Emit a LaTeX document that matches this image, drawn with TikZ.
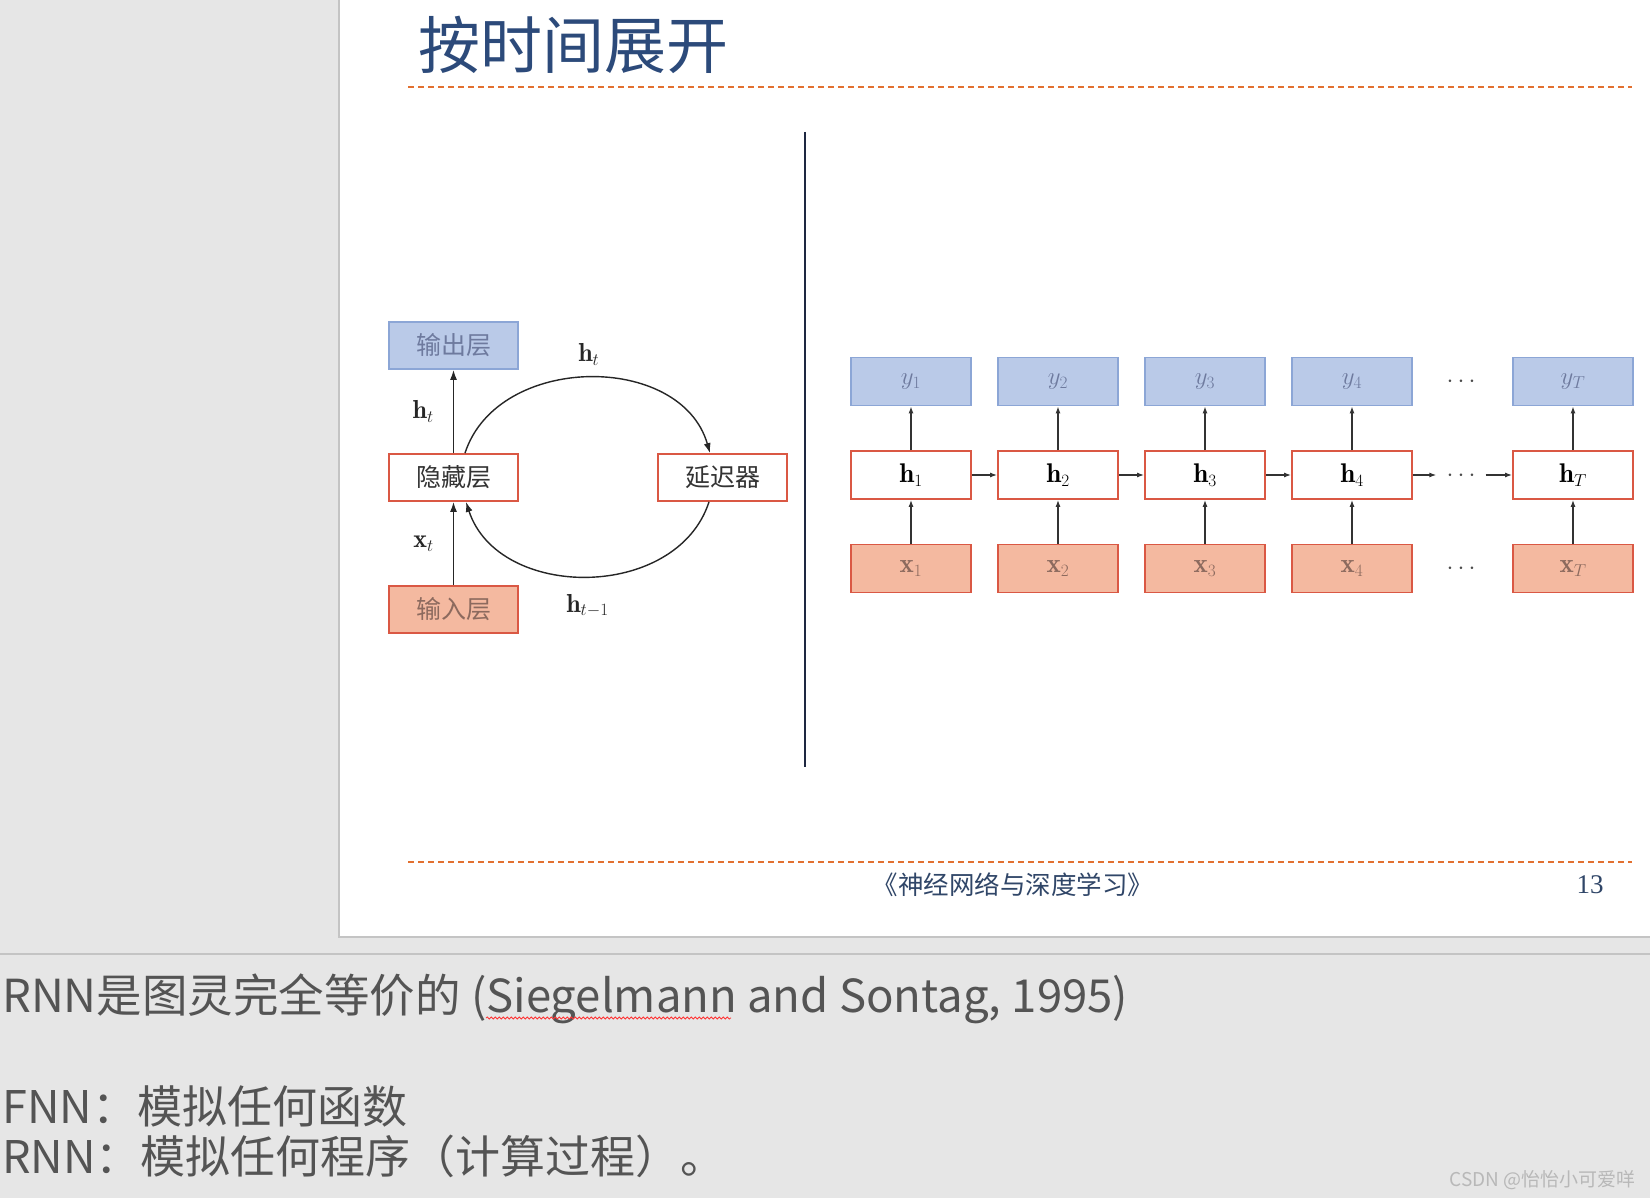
\documentclass[tikz,border=0pt]{standalone}
\usepackage{fontspec}
\usetikzlibrary{arrows.meta,decorations.pathmorphing}
\newfontfamily\cjk{Noto Sans CJK SC}
\newfontfamily\pgnum{Liberation Serif}
\definecolor{pagegray}{RGB}{230,230,230}
\definecolor{rimgray}{RGB}{196,196,196}
\definecolor{titleblue}{RGB}{44,74,122}
\definecolor{footblue}{RGB}{48,70,104}
\definecolor{dashorange}{RGB}{226,112,48}
\definecolor{outfill}{RGB}{186,202,232}
\definecolor{outdraw}{RGB}{140,166,214}
\definecolor{hiddraw}{RGB}{218,88,68}
\definecolor{infill}{RGB}{244,185,160}
\definecolor{outtext}{RGB}{110,122,158}
\definecolor{intext}{RGB}{140,106,94}
\definecolor{notegray}{RGB}{84,84,84}
\definecolor{rulenavy}{RGB}{30,40,65}
\begin{document}
\begin{tikzpicture}[x=1pt,y=1pt,every node/.style={inner sep=0pt},
  lyr/.style={line width=1.8pt,minimum width=129pt,minimum height=47pt,font=\cjk\fontsize{25}{28}\selectfont},
  outlayer/.style={lyr,draw=outdraw,fill=outfill,text=outtext},
  hidlayer/.style={lyr,draw=hiddraw,fill=white,text=black!80},
  inlayer/.style={lyr,draw=hiddraw,fill=infill,text=intext},
  ucell/.style={line width=1.8pt,minimum width=120pt,minimum height=48pt,font=\fontsize{27}{30}\selectfont},
  ycell/.style={ucell,draw=outdraw,fill=outfill,text=outtext},
  hcell/.style={ucell,draw=hiddraw,fill=white,text=black},
  xcell/.style={ucell,draw=hiddraw,fill=infill,text=intext},
  ellip/.style={font=\fontsize{25}{28}\selectfont,text=black!70,inner xsep=10pt,text height=12.5pt,text depth=0pt},
  arr/.style={-{Latex[length=10pt,width=7pt]},line width=1.4pt,black!85},
  arrs/.style={-{Latex[length=7pt,width=5pt]},line width=1.2pt,black!80},
  lbl/.style={font=\fontsize{26}{28}\selectfont,text=black!85},
  dashrule/.style={dashorange,line width=1.3pt,dash pattern=on 6pt off 4pt}]
  \useasboundingbox (0,0) rectangle (1650,-1198);
  % slide and notes pane
  \fill[pagegray] (0,0) rectangle (1650,-1198);
  \fill[white] (339,0) rectangle (1650,-937);
  \draw[rimgray,line width=1.2pt] (339,0) -- (339,-937) -- (1650,-937);
  \draw[rimgray,line width=1.5pt] (0,-954) -- (1650,-954);
  \draw[dashrule] (408,-87) -- (1632,-87);
  \draw[dashrule] (408,-862) -- (1632,-862);
  \node[font=\cjk\fontsize{62}{70}\selectfont,text=titleblue,anchor=west] (title) at (418,-45) {按时间展开};
  \node[font=\cjk\fontsize{25.5}{28}\selectfont,text=footblue] (book) at (1013,-885) {《神经网络与深度学习》};
  \node[font=\pgnum\fontsize{27}{30}\selectfont,text=footblue] (pageno) at (1590,-885) {13};
  \draw[rulenavy,line width=1.3pt] (805,-132) -- (805,-767);
  % recurrent view
  \node[outlayer] (outl) at (453.5,-345.5) {输出层};
  \node[hidlayer] (hidl) at (453.5,-477.5) {隐藏层};
  \node[hidlayer] (delay) at (722.5,-477.5) {延迟器};
  \node[inlayer] (inl) at (453.5,-609.5) {输入层};
  \draw[arr] (hidl) -- (outl) node[midway,left=19pt,lbl] {$\mathbf{h}_t$};
  \draw[arr] (inl) -- (hidl) node[midway,left=19pt,lbl] {$\mathbf{x}_t$};
  \draw[arr] ([xshift=11.5pt]hidl.north) to[out=72,in=106,looseness=1.1] node[above=12pt,lbl] {$\mathbf{h}_t$} ([xshift=-12.5pt]delay.north);
  \draw[arr] ([xshift=-13.5pt]delay.south) to[out=-108,in=-72,looseness=1.1] node[below=17pt,lbl] {$\mathbf{h}_{t-1}$} ([xshift=12.5pt]hidl.south);
  % unrolled view
  \node[ycell] (y1) at (911,-381.5) {$y_1$};
  \node[ycell] (y2) at (1058,-381.5) {$y_2$};
  \node[ycell] (y3) at (1205,-381.5) {$y_3$};
  \node[ycell] (y4) at (1352,-381.5) {$y_4$};
  \node[ellip] (ydots) at (1461,-381.5) {$\cdots$};
  \node[ycell] (yT) at (1573,-381.5) {$y_T$};
  \node[hcell] (h1) at (911,-475) {$\mathbf{h}_1$};
  \node[hcell] (h2) at (1058,-475) {$\mathbf{h}_2$};
  \node[hcell] (h3) at (1205,-475) {$\mathbf{h}_3$};
  \node[hcell] (h4) at (1352,-475) {$\mathbf{h}_4$};
  \node[ellip] (hdots) at (1461,-475) {$\cdots$};
  \node[hcell] (hT) at (1573,-475) {$\mathbf{h}_T$};
  \node[xcell] (x1) at (911,-568.5) {$\mathbf{x}_1$};
  \node[xcell] (x2) at (1058,-568.5) {$\mathbf{x}_2$};
  \node[xcell] (x3) at (1205,-568.5) {$\mathbf{x}_3$};
  \node[xcell] (x4) at (1352,-568.5) {$\mathbf{x}_4$};
  \node[ellip] (xdots) at (1461,-568.5) {$\cdots$};
  \node[xcell] (xT) at (1573,-568.5) {$\mathbf{x}_T$};
  \draw[arrs] (x1) -- (h1); \draw[arrs] (h1) -- (y1); \draw[arrs] (h1) -- (h2);
  \draw[arrs] (x2) -- (h2); \draw[arrs] (h2) -- (y2); \draw[arrs] (h2) -- (h3);
  \draw[arrs] (x3) -- (h3); \draw[arrs] (h3) -- (y3); \draw[arrs] (h3) -- (h4);
  \draw[arrs] (x4) -- (h4); \draw[arrs] (h4) -- (y4); \draw[arrs] (h4) -- (hdots);
  \draw[arrs] (xT) -- (hT); \draw[arrs] (hT) -- (yT); \draw[arrs] (hdots) -- (hT);
  % notes
  \node[font=\cjk\fontsize{45.5}{50}\selectfont,text=notegray,anchor=base west] (turing) at (2,-1012) {RNN是图灵完全等价的 (Siegelmann and Sontag, 1995)};
  \node[font=\cjk\fontsize{45}{50}\selectfont,text=notegray,anchor=base west] (fnn) at (2,-1123) {FNN：模拟任何函数};
  \node[font=\cjk\fontsize{45}{50}\selectfont,text=notegray,anchor=base west] (rnn) at (2,-1173) {RNN：模拟任何程序（计算过程）。};
  \draw[red!80,line width=0.8pt,decorate,decoration={snake,segment length=4pt,amplitude=1pt}] (486,-1018) -- (731,-1018);
  \node[font=\cjk\fontsize{19}{22}\selectfont,text=black!28,anchor=base east] (mark) at (1636,-1186) {CSDN @怡怡小可爱咩};
\end{tikzpicture}
\end{document}
